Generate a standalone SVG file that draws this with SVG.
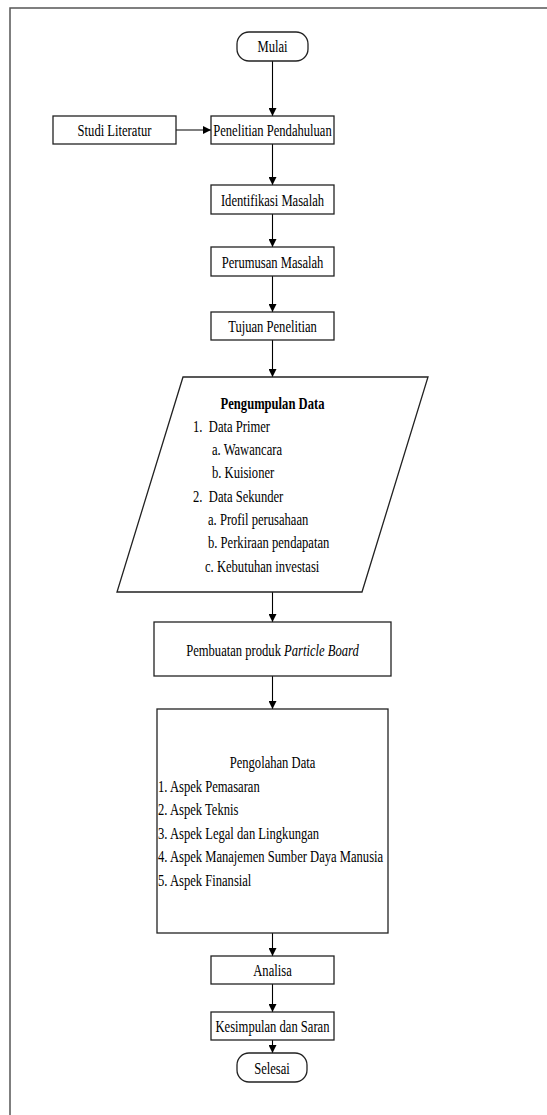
<svg xmlns="http://www.w3.org/2000/svg" width="547" height="1115" viewBox="0 0 547 1115" font-family="'Liberation Serif', 'Times New Roman', Times, serif">
<defs>
<marker id="ah" viewBox="0 0 8 8" refX="8" refY="4" markerWidth="8" markerHeight="8" markerUnits="userSpaceOnUse" orient="auto">
<path d="M0,0 L8,4 L0,8 Z" fill="#000"/>
</marker>
<style>
.frame{fill:none;stroke:#555;stroke-width:1.5}
.box{fill:#fff;stroke:#222;stroke-width:1.3}
.con{fill:none;stroke:#000;stroke-width:1.1;marker-end:url(#ah)}
text{font-family:'Liberation Serif','Times New Roman',Times,serif;font-size:17.5px;fill:#000}
.b{font-weight:bold}
.i{font-style:italic}
</style>
</defs>
<rect width="547" height="1115" fill="#fff"/>
<path class="frame" d="M10,1115 V8 H547"/>

<g id="connectors">
<line class="con" x1="272.5" y1="61" x2="272.5" y2="116"/>
<line class="con" x1="176" y1="130" x2="211" y2="130"/>
<line class="con" x1="272.5" y1="144" x2="272.5" y2="185"/>
<line class="con" x1="272.5" y1="214" x2="272.5" y2="247"/>
<line class="con" x1="272.5" y1="276" x2="272.5" y2="312"/>
<line class="con" x1="272.5" y1="340" x2="272.5" y2="377"/>
<line class="con" x1="272.5" y1="592" x2="272.5" y2="622"/>
<line class="con" x1="272.5" y1="676" x2="272.5" y2="709"/>
<line class="con" x1="272.5" y1="933" x2="272.5" y2="956"/>
<line class="con" x1="272.5" y1="984" x2="272.5" y2="1012"/>
<line class="con" x1="272.5" y1="1040" x2="272.5" y2="1053"/>
</g>

<g id="mulai">
<rect class="box" x="237" y="32" width="71" height="29" rx="12"/>
<text transform="translate(272.5 52) scale(0.72 1)" text-anchor="middle">Mulai</text>
</g>
<g id="studi-literatur">
<rect class="box" x="53" y="116" width="123" height="28"/>
<text transform="translate(114.5 136) scale(0.72 1)" text-anchor="middle">Studi Literatur</text>
</g>
<g id="penelitian-pendahuluan">
<rect class="box" x="211" y="116" width="123" height="28"/>
<text transform="translate(272.5 136) scale(0.72 1)" text-anchor="middle">Penelitian Pendahuluan</text>
</g>
<g id="identifikasi-masalah">
<rect class="box" x="211" y="185" width="123" height="29"/>
<text transform="translate(272.5 205.5) scale(0.72 1)" text-anchor="middle">Identifikasi Masalah</text>
</g>
<g id="perumusan-masalah">
<rect class="box" x="211" y="247" width="123" height="29"/>
<text transform="translate(272.5 267.5) scale(0.72 1)" text-anchor="middle">Perumusan Masalah</text>
</g>
<g id="tujuan-penelitian">
<rect class="box" x="211" y="312" width="123" height="28"/>
<text transform="translate(272.5 332) scale(0.72 1)" text-anchor="middle">Tujuan Penelitian</text>
</g>
<g id="pengumpulan-data">
<polygon class="box" points="183,377 428,377 362,592 117,592"/>
<text class="b" transform="translate(272.5 409) scale(0.72 1)" text-anchor="middle">Pengumpulan Data</text>
<text transform="translate(193 432) scale(0.72 1)">1.<tspan x="22">Data Primer</tspan></text>
<text transform="translate(212 455) scale(0.72 1)">a. Wawancara</text>
<text transform="translate(212 478) scale(0.72 1)">b. Kuisioner</text>
<text transform="translate(193 502) scale(0.72 1)">2.<tspan x="22">Data Sekunder</tspan></text>
<text transform="translate(208 525) scale(0.72 1)">a. Profil perusahaan</text>
<text transform="translate(208 548) scale(0.72 1)">b. Perkiraan pendapatan</text>
<text transform="translate(205 572) scale(0.72 1)">c. Kebutuhan investasi</text>
</g>
<g id="pembuatan-produk">
<rect class="box" x="154" y="622" width="237" height="54"/>
<text transform="translate(272.5 655.5) scale(0.72 1)" text-anchor="middle">Pembuatan produk <tspan class="i">Particle Board</tspan></text>
</g>
<g id="pengolahan-data">
<rect class="box" x="157" y="709" width="231" height="224"/>
<text transform="translate(272.5 768) scale(0.72 1)" text-anchor="middle">Pengolahan Data</text>
<text transform="translate(158 791.5) scale(0.72 1)">1. Aspek Pemasaran</text>
<text transform="translate(158 815) scale(0.72 1)">2. Aspek Teknis</text>
<text transform="translate(158 838.5) scale(0.72 1)">3. Aspek Legal dan Lingkungan</text>
<text transform="translate(158 862) scale(0.72 1)">4. Aspek Manajemen Sumber Daya Manusia</text>
<text transform="translate(158 885.5) scale(0.72 1)">5. Aspek Finansial</text>
</g>
<g id="analisa">
<rect class="box" x="211" y="956" width="123" height="28"/>
<text transform="translate(272.5 976) scale(0.72 1)" text-anchor="middle">Analisa</text>
</g>
<g id="kesimpulan-saran">
<rect class="box" x="211" y="1012" width="123" height="28"/>
<text transform="translate(272.5 1032) scale(0.72 1)" text-anchor="middle">Kesimpulan dan Saran</text>
</g>
<g id="selesai">
<rect class="box" x="237" y="1053" width="70" height="29" rx="12"/>
<text transform="translate(272 1073.5) scale(0.72 1)" text-anchor="middle">Selesai</text>
</g>
</svg>
